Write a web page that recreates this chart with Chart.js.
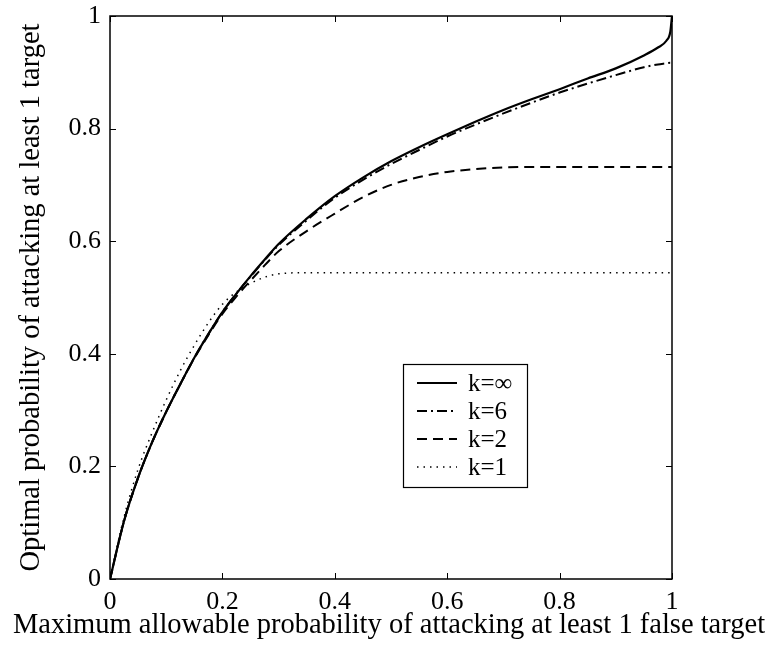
<!DOCTYPE html>
<html>
<head>
<meta charset="utf-8">
<script src="https://cdn.jsdelivr.net/npm/chart.js@4.4.0/dist/chart.umd.min.js"></script>
<style>
  body { margin: 0; background: #fff; }
  canvas { display: block; }
</style>
</head>
<body>
<canvas id="chart" width="776" height="645"></canvas>
<script>
// x = max allowable probability of attacking at least 1 false target
const xValues = [0, 0.025, 0.05, 0.075, 0.1, 0.125, 0.15, 0.175, 0.2, 0.225, 0.25, 0.275, 0.3, 0.35, 0.4,
  0.45, 0.5, 0.55, 0.6, 0.65, 0.7, 0.75, 0.8, 0.85, 0.9, 0.95, 0.975, 0.99, 0.997, 1];

const kInf = [0, 0.103, 0.18, 0.243, 0.297, 0.346, 0.393, 0.435, 0.474, 0.507, 0.538, 0.567, 0.595, 0.64, 0.68,
  0.713, 0.742, 0.767, 0.79, 0.812, 0.833, 0.852, 0.87, 0.889, 0.907, 0.93, 0.944, 0.956, 0.972, 1.0];
const k6 = [0, 0.103, 0.18, 0.243, 0.297, 0.346, 0.393, 0.435, 0.474, 0.507, 0.537, 0.566, 0.593, 0.637, 0.677,
  0.709, 0.737, 0.762, 0.786, 0.807, 0.827, 0.846, 0.864, 0.88, 0.895, 0.909, 0.914, 0.916, 0.917, 0.917];
const k2 = [0, 0.103, 0.18, 0.243, 0.297, 0.346, 0.392, 0.433, 0.471, 0.502, 0.53, 0.557, 0.582, 0.618, 0.649,
  0.678, 0.70, 0.714, 0.723, 0.728, 0.731, 0.732, 0.732, 0.732, 0.732, 0.732, 0.732, 0.732, 0.732, 0.732];
const k1 = [0, 0.11, 0.195, 0.26, 0.318, 0.37, 0.415, 0.455, 0.488, 0.51, 0.525, 0.536, 0.542, 0.544, 0.544,
  0.544, 0.544, 0.544, 0.544, 0.544, 0.544, 0.544, 0.544, 0.544, 0.544, 0.544, 0.544, 0.544, 0.544, 0.544];

const seriesLabels = ['k=\u221E', 'k=6', 'k=2', 'k=1'];
const tickValues = [0, 0.2, 0.4, 0.6, 0.8, 1];
const xTitle = 'Maximum allowable probability of attacking at least 1 false target';
const yTitle = 'Optimal probability of attacking at least 1 target';

const FAMILY = 'Liberation Serif';
const TITLEFONT = '28.5px "Liberation Serif"';

function pts(ys) {
  return xValues.map((x, i) => ({ x: x, y: ys[i] }));
}

const styles = [
  { dash: [], width: 2.2 },
  { dash: [10, 4, 2, 4], width: 2 },
  { dash: [10, 6], width: 2 },
  { dash: [1.5, 5], width: 1.5 }
];

const datasets = [kInf, k6, k2, k1].map((ys, i) => ({
  label: seriesLabels[i],
  data: pts(ys),
  borderColor: '#000',
  borderWidth: styles[i].width,
  borderDash: styles[i].dash,
  pointRadius: 0,
  showLine: true,
  fill: false,
  cubicInterpolationMode: 'monotone'
}));

// box, inward ticks, titles and the legend inside the axes
const boxPlugin = {
  id: 'box',
  afterDraw(chart) {
    const ctx = chart.ctx;
    const a = chart.chartArea;
    const xs = chart.scales.x, ys = chart.scales.y;
    ctx.save();
    ctx.strokeStyle = '#000';
    ctx.lineWidth = 1.5;
    ctx.strokeRect(a.left, a.top, a.right - a.left, a.bottom - a.top);
    ctx.lineWidth = 1;
    const tl = 6;
    tickValues.forEach(v => {
      const px = Math.round(xs.getPixelForValue(v)) + 0.5;
      ctx.beginPath();
      ctx.moveTo(px, a.bottom); ctx.lineTo(px, a.bottom - tl);
      ctx.moveTo(px, a.top); ctx.lineTo(px, a.top + tl);
      ctx.stroke();
      const py = Math.round(ys.getPixelForValue(v)) + 0.5;
      ctx.beginPath();
      ctx.moveTo(a.left, py); ctx.lineTo(a.left + tl, py);
      ctx.moveTo(a.right, py); ctx.lineTo(a.right - tl, py);
      ctx.stroke();
    });

    // axis titles
    ctx.fillStyle = '#000';
    ctx.font = TITLEFONT;
    ctx.textAlign = 'center';
    ctx.textBaseline = 'middle';
    ctx.fillText(xTitle, 389, 626);
    ctx.save();
    ctx.translate(32, (a.top + a.bottom) / 2);
    ctx.rotate(-Math.PI / 2);
    ctx.fillText(yTitle, 0, 0);
    ctx.restore();

    // legend
    const lx = 403, ly = 364, lw = 124, lh = 123;
    ctx.fillStyle = '#fff';
    ctx.fillRect(lx, ly, lw, lh);
    ctx.lineWidth = 1.2;
    ctx.strokeRect(lx + 0.5, ly + 0.5, lw, lh);
    ctx.font = '25px "Liberation Serif"';
    ctx.textAlign = 'left';
    ctx.textBaseline = 'middle';
    ctx.fillStyle = '#000';
    chart.data.datasets.forEach((ds, i) => {
      const y = ly + 19 + i * 28;
      ctx.beginPath();
      ctx.setLineDash(ds.borderDash);
      ctx.lineWidth = ds.borderWidth;
      ctx.moveTo(417, y); ctx.lineTo(457, y);
      ctx.stroke();
      ctx.setLineDash([]);
      ctx.fillText(ds.label, 468, y + 1);
    });
    ctx.restore();
  }
};

new Chart(document.getElementById('chart').getContext('2d'), {
  type: 'scatter',
  data: { datasets: datasets },
  options: {
    responsive: false,
    animation: false,
    layout: { padding: { left: 0, top: 16, right: 104, bottom: 0 } },
    plugins: { legend: { display: false }, tooltip: { enabled: false } },
    scales: {
      x: {
        type: 'linear', min: 0, max: 1,
        afterBuildTicks: s => { s.ticks = tickValues.map(v => ({ value: v })); },
        afterFit: s => { s.height = 66; s.paddingLeft = 0; s.paddingRight = 0; },
        grid: { display: false, drawTicks: false },
        border: { display: false },
        ticks: { color: '#000', padding: 8, font: { family: FAMILY, size: 26 }, callback: v => String(v) }
      },
      y: {
        type: 'linear', min: 0, max: 1,
        afterBuildTicks: s => { s.ticks = tickValues.map(v => ({ value: v })); },
        afterFit: s => { s.width = 110; s.paddingTop = 0; s.paddingBottom = 0; },
        grid: { display: false, drawTicks: false },
        border: { display: false },
        ticks: { color: '#000', padding: 9, font: { family: FAMILY, size: 26 }, callback: v => String(v) }
      }
    }
  },
  plugins: [boxPlugin]
});
</script>
</body>
</html>
